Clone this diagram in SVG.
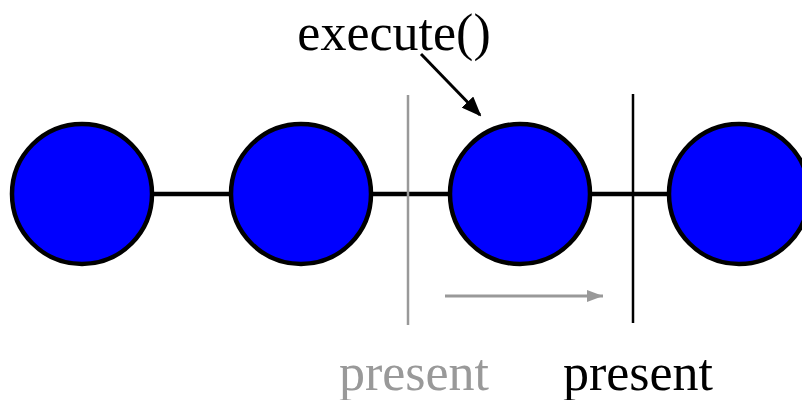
<svg xmlns="http://www.w3.org/2000/svg" width="802" height="400" viewBox="0 0 802 400">
<style>
.node{fill:#0000ff;stroke:#000;stroke-width:4.5}
.t{font-family:"Liberation Serif","Times New Roman",serif;font-size:52px}
</style>
<defs>
<marker id="ab" markerWidth="10" markerHeight="10" refX="8" refY="5" orient="auto" markerUnits="userSpaceOnUse"><path d="M0,0 L10,5 L0,10 z" fill="#000"/></marker>
<marker id="ag" markerWidth="16" markerHeight="12" refX="16" refY="6" orient="auto" markerUnits="userSpaceOnUse"><path d="M0,0 L16,6 L0,12 z" fill="#999"/></marker>
<marker id="ak" markerWidth="20" markerHeight="16" refX="18" refY="8" orient="auto" markerUnits="userSpaceOnUse"><path d="M0,0 L20,8 L0,16 z" fill="#000"/></marker>
</defs>
<g id="connectors">
<line x1="82" y1="194" x2="740" y2="194" stroke="#000" stroke-width="4.5"/>
<line x1="421" y1="54" x2="480" y2="115" stroke="#000" stroke-width="3" marker-end="url(#ak)"/>
<line x1="445" y1="296" x2="603" y2="296" stroke="#999" stroke-width="3" marker-end="url(#ag)"/>
</g>
<g id="n1"><circle class="node" cx="82" cy="194" r="70"/></g>
<g id="n2"><circle class="node" cx="301" cy="194" r="70"/></g>
<g id="n3"><circle class="node" cx="520" cy="194" r="70"/></g>
<g id="n4"><circle class="node" cx="739" cy="194" r="70"/></g>
<line x1="408" y1="95" x2="408" y2="325" stroke="#999" stroke-width="2.5"/>
<line x1="633" y1="94" x2="633" y2="323" stroke="#000" stroke-width="2.5"/>
<text class="t" x="394" y="50" text-anchor="middle">execute()</text>
<text class="t" x="414" y="390" text-anchor="middle" fill="#999">present</text>
<text class="t" x="638" y="390" text-anchor="middle">present</text>
</svg>
